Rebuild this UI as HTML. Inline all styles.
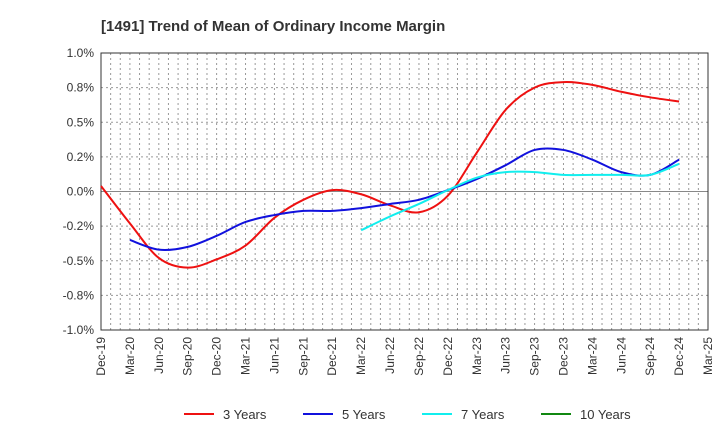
<!DOCTYPE html>
<html><head><meta charset="utf-8"><style>
body{margin:0;background:#fff;font-family:"Liberation Sans",sans-serif}
</style></head><body>
<svg id="c" width="720" height="440" xmlns="http://www.w3.org/2000/svg">
<text x="101" y="31" font-size="15" font-weight="bold" fill="#333">[1491]  Trend of Mean of Ordinary Income Margin</text>
<g id="grid"></g><g id="axes"></g><g id="series"></g><g id="legend"></g>
</svg>
<script>
const categories=["Dec-19","Mar-20","Jun-20","Sep-20","Dec-20","Mar-21","Jun-21","Sep-21","Dec-21","Mar-22","Jun-22","Sep-22","Dec-22","Mar-23","Jun-23","Sep-23","Dec-23","Mar-24","Jun-24","Sep-24","Dec-24","Mar-25"];
const yTicks=[1.0,0.75,0.5,0.25,0,-0.25,-0.5,-0.75,-1.0];
const yTickLabels=["1.0%","0.8%","0.5%","0.2%","0.0%","-0.2%","-0.5%","-0.8%","-1.0%"];
const s3=[0.04,-0.23,-0.48,-0.55,-0.49,-0.39,-0.19,-0.06,0.01,-0.02,-0.10,-0.15,-0.03,0.28,0.59,0.75,0.79,0.77,0.72,0.68,0.65,null];
const s5=[null,-0.35,-0.42,-0.40,-0.32,-0.22,-0.17,-0.14,-0.14,-0.12,-0.09,-0.06,0.01,0.09,0.19,0.30,0.30,0.23,0.14,0.12,0.23,null];
const s7=[null,null,null,null,null,null,null,null,null,-0.28,-0.18,-0.09,0.01,0.10,0.14,0.14,0.12,0.12,0.12,0.12,0.20,null];
const s10=[];
const L=101,R=708,T=53,B=330;
const NS="http://www.w3.org/2000/svg";
const x=i=>L+(R-L)*i/(categories.length-1);
const y=v=>T+(1.0-v)/2.0*(B-T);
function mk(tag,attrs,parent){const e=document.createElementNS(NS,tag);for(const k in attrs)e.setAttribute(k,attrs[k]);parent.appendChild(e);return e;}
const grid=document.getElementById('grid'),axes=document.getElementById('axes'),ser=document.getElementById('series'),leg=document.getElementById('legend');
const nMonths=(categories.length-1)*3;
for(let m=1;m<nMonths;m++){const xx=L+(R-L)*m/nMonths;
 const g=mk('line',{x1:xx,x2:xx,y1:T,y2:B,stroke:'#999','stroke-dasharray':'2,3','stroke-width':1},grid);
 
 }
yTicks.forEach((v,i)=>{
 const yy=y(v);
 if(v!==1&&v!==-1){const g=mk('line',{x1:L,x2:R,y1:yy,y2:yy,stroke:v===0?'#888':'#999','stroke-dasharray':v===0?'':'2,3','stroke-width':1},grid);
 
 }
 const t=mk('text',{x:L-7,y:yy+4,'text-anchor':'end','font-size':12,fill:'#333'},axes);t.textContent=yTickLabels[i];
 
 
});
const fr=mk('rect',{x:L,y:T,width:R-L,height:B-T,fill:'none',stroke:'#333','stroke-width':1},axes);


categories.forEach((c,i)=>{const xx=x(i);
 const t=mk('text',{x:0,y:0,'text-anchor':'end','font-size':12,fill:'#333',transform:`translate(${xx+4},${B+7}) rotate(-90)`},axes);t.textContent=c;
 
 });
function path(arr){const p=[];arr.forEach((v,i)=>{if(v!==null&&v!==undefined)p.push([x(i),y(v)])});
 if(p.length<2)return '';let d=`M${p[0][0]},${p[0][1]}`;
 for(let i=0;i<p.length-1;i++){const p0=p[i-1]||p[i],p1=p[i],p2=p[i+1],p3=p[i+2]||p2;
  d+=` C${p1[0]+(p2[0]-p0[0])/6},${p1[1]+(p2[1]-p0[1])/6} ${p2[0]-(p3[0]-p1[0])/6},${p2[1]-(p3[1]-p1[1])/6} ${p2[0]},${p2[1]}`;}
 return d;}
const series=[[s3,'#ee1111','3 Years','series-3-years'],[s5,'#1111dd','5 Years','series-5-years'],[s7,'#11eeee','7 Years','series-7-years'],[s10,'#118811','10 Years','series-10-years']];
series.forEach(([a,col,name,dn],k)=>{
 const d=path(a);if(d){const p=mk('path',{d,fill:'none',stroke:col,'stroke-width':2},ser);
 
 }
 const lx=[184,303,422,541][k];
 const g=mk('g',{},leg);
 
 
 mk('line',{x1:lx,x2:lx+30,y1:414,y2:414,stroke:col,'stroke-width':2},g);
 const t=mk('text',{x:lx+39,y:419,'font-size':13,fill:'#333'},g);t.textContent=name;
});
</script>
</body></html>
